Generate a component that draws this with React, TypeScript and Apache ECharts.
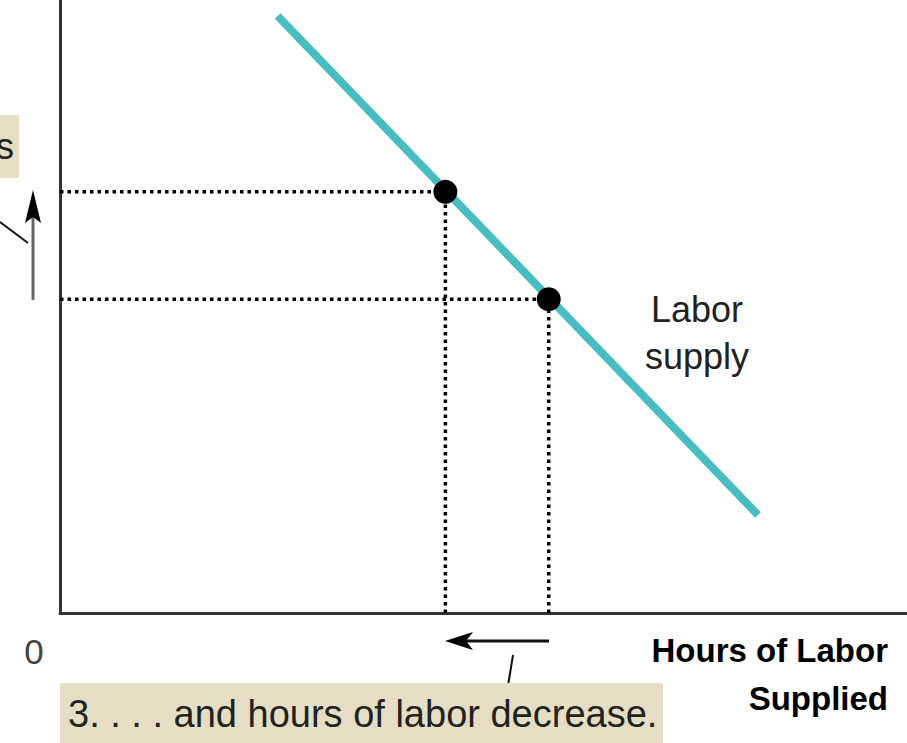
import React, { useEffect, useRef } from "react";
import * as echarts from "echarts";

// Labor supply curve endpoints (chart units: x 0..100 hours, y 0..100 wage)
const supplyX = [25.7, 82.4];
const supplyY = [97.4, 16.0];
// Two equilibrium points on the curve
const pointX = [45.5, 57.7];
const pointY = [68.7, 51.2];
const axisMaxX = 100;
const axisMaxY = 100;

const FONT = "'Liberation Sans', Arial, Helvetica, sans-serif";

export default function App() {
  const ref = useRef<HTMLDivElement>(null);
  useEffect(() => {
    if (!ref.current) return;
    const chart = echarts.init(ref.current, null, { renderer: "svg" });
    const dotted = { color: "#000", width: 3.5, type: [3.5, 4] as any, opacity: 1 };
    const guideSeries: any[] = [];
    pointX.forEach((x, i) => {
      guideSeries.push({
        type: "line",
        data: [[0, pointY[i]], [x, pointY[i]]],
        symbol: "none",
        lineStyle: dotted,
        silent: true,
        z: 1,
      });
      guideSeries.push({
        type: "line",
        data: [[x, 0], [x, pointY[i]]],
        symbol: "none",
        lineStyle: dotted,
        silent: true,
        z: 1,
      });
    });
    chart.setOption({
      animation: false,
      grid: { left: 60, right: 0, top: 0, bottom: 130 },
      xAxis: {
        type: "value",
        min: 0,
        max: axisMaxX,
        axisLine: { show: true, lineStyle: { color: "#333", width: 3 } },
        axisTick: { show: false },
        axisLabel: { show: false },
        splitLine: { show: false },
      },
      yAxis: {
        type: "value",
        min: 0,
        max: axisMaxY,
        axisLine: { show: true, lineStyle: { color: "#333", width: 3 } },
        axisTick: { show: false },
        axisLabel: { show: false },
        splitLine: { show: false },
      },
      series: [
        ...guideSeries,
        {
          type: "line",
          name: "Labor supply",
          data: supplyX.map((x, i) => [x, supplyY[i]]),
          symbol: "none",
          lineStyle: { color: "#48BDC1", width: 8, cap: "butt" },
          z: 2,
        },
        {
          type: "scatter",
          data: pointX.map((x, i) => [x, pointY[i]]),
          symbol: "circle",
          symbolSize: 24,
          itemStyle: { color: "#000", opacity: 1 },
          z: 3,
        },
      ],
      graphic: [
        // left cut-off annotation box
        { type: "rect", shape: { x: 0, y: 115, width: 19, height: 63 }, style: { fill: "#E6DEC4" } },
        { type: "text", x: 14, y: 146, style: { text: "s", font: `36px ${FONT}`, fill: "#222", align: "right", verticalAlign: "middle" } },
        { type: "line", shape: { x1: 0, y1: 222, x2: 28, y2: 243 }, style: { stroke: "#111", lineWidth: 2 } },
        // up arrow
        { type: "line", shape: { x1: 33, y1: 300, x2: 33, y2: 212 }, style: { stroke: "#666", lineWidth: 3 } },
        { type: "polygon", shape: { points: [[33, 190], [25, 223], [33, 217], [41, 223]] }, style: { fill: "#000" } },
        // labels
        { type: "text", x: 697, y: 333, style: { text: "Labor\nsupply", font: `36px ${FONT}`, fill: "#222", align: "center", verticalAlign: "middle", lineHeight: 47 } },
        { type: "text", x: 34, y: 651, style: { text: "0", font: `35px ${FONT}`, fill: "#444", align: "center", verticalAlign: "middle" } },
        { type: "text", x: 888, y: 674, style: { text: "Hours of Labor\nSupplied", font: `bold 33px ${FONT}`, fill: "#000", align: "right", verticalAlign: "middle", lineHeight: 48 } },
        // bottom left arrow
        { type: "line", shape: { x1: 549, y1: 641, x2: 462, y2: 641 }, style: { stroke: "#111", lineWidth: 3 } },
        { type: "polygon", shape: { points: [[445, 641], [473, 632], [466, 641], [473, 650]] }, style: { fill: "#000" } },
        { type: "line", shape: { x1: 513, y1: 655, x2: 508, y2: 686 }, style: { stroke: "#111", lineWidth: 2 } },
        // bottom annotation box
        { type: "rect", shape: { x: 60, y: 683, width: 603, height: 60 }, style: { fill: "#E6DEC4" } },
        { type: "text", x: 68, y: 714, style: { text: "3. . . . and hours of labor decrease.", font: `38px ${FONT}`, fill: "#222", align: "left", verticalAlign: "middle" } },
      ],
    });
    return () => chart.dispose();
  }, []);
  return (
    <div
      ref={ref}
      style={{ position: "fixed", left: 0, top: 0, width: 907, height: 743, background: "#fff" }}
    />
  );
}
